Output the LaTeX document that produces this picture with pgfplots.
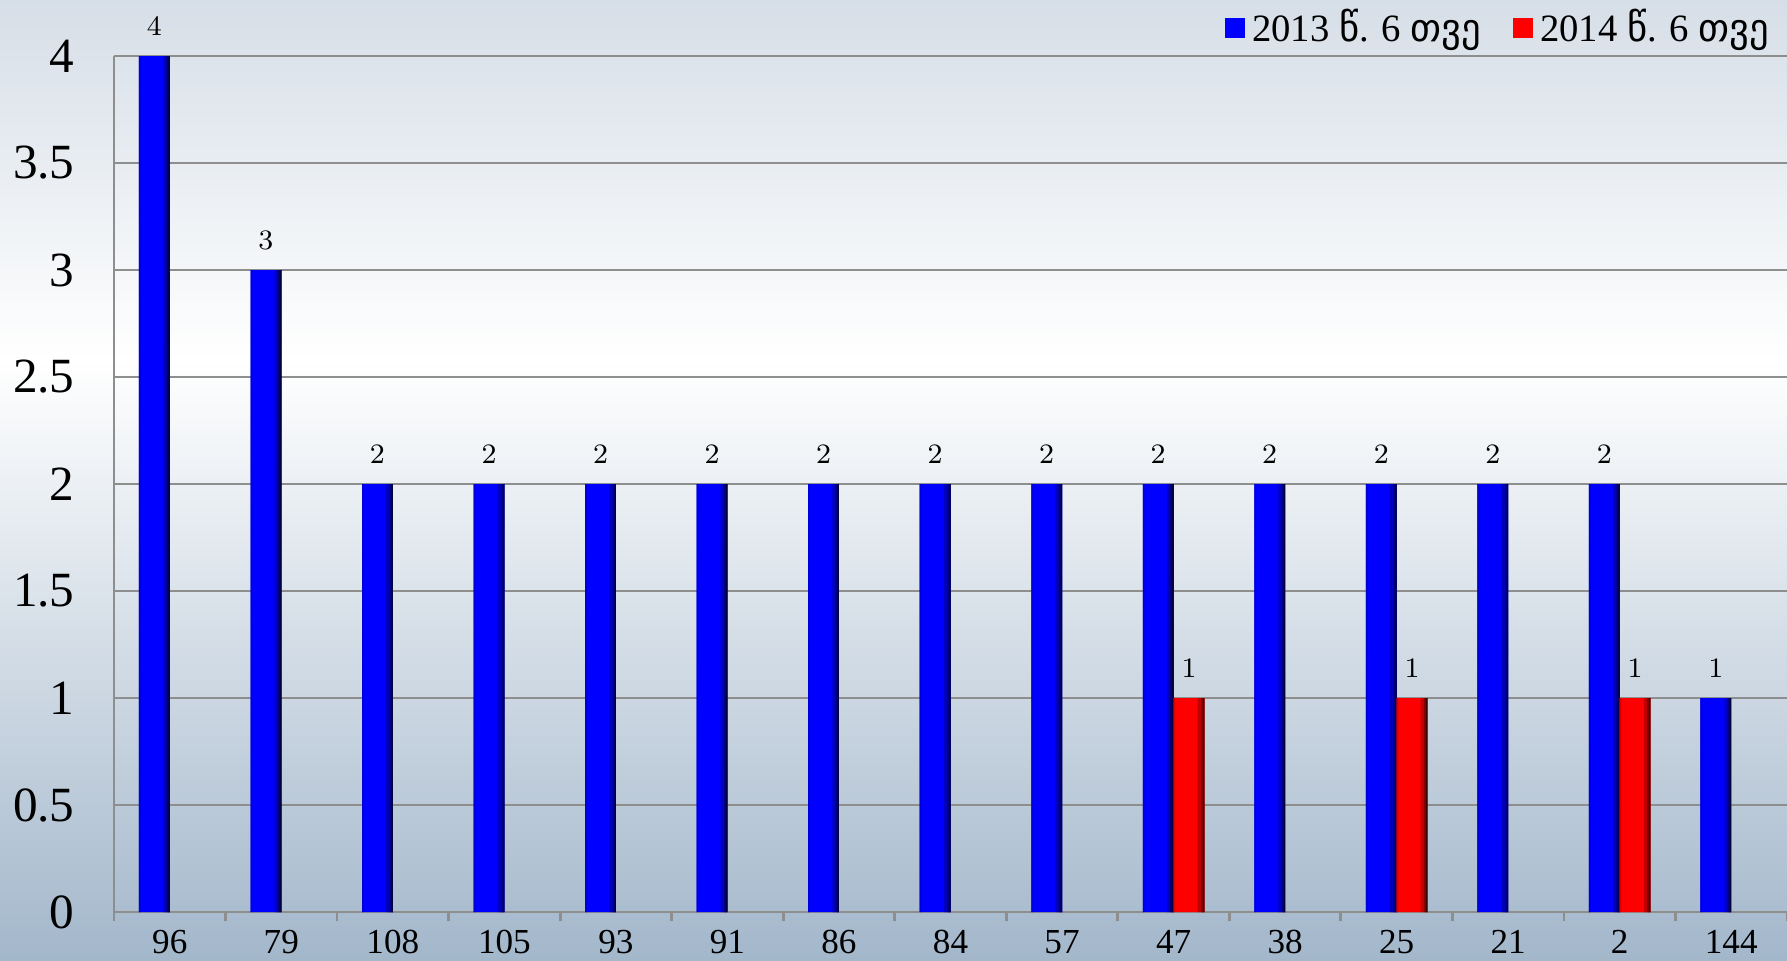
\documentclass[border=0pt]{standalone}
\usepackage{fontspec}
\setmainfont{Liberation Serif}
\newfontfamily\geo{DejaVu Sans}
\usepackage{pgfplots}
\usepackage{pgfplotstable}
\pgfplotsset{compat=1.18}

\definecolor{bgtop}{HTML}{D6DEE7}
\definecolor{bgbot}{HTML}{A3B7CB}
\definecolor{gridc}{HTML}{8E8E8E}

% x = category index, y = count
\pgfplotstableread{
x y
0 4
1 3
2 2
3 2
4 2
5 2
6 2
7 2
8 2
9 2
10 2
11 2
12 2
13 2
14 1
}\tabA
\pgfplotstableread{
x y
9 1
11 1
13 1
}\tabB

\begin{document}
\begin{tikzpicture}
\useasboundingbox (0,0) rectangle (17.87,9.60);
\clip (0,0) rectangle (17.87,9.60);
% background gradient
\shade[top color=bgtop, bottom color=white] (0,6.0) rectangle (17.87,9.60);
\shade[top color=white, bottom color=bgbot] (0,0) rectangle (17.87,6.0);
\begin{axis}[
    at={(1.14cm,0.48cm)}, anchor=south west,
    scale only axis, width=16.73cm, height=8.56cm,
    xmin=-0.5, xmax=14.5, ymin=0, ymax=4,
    axis x line*=bottom, axis y line*=left,
    axis line style={gridc, line width=0.8pt},
    ytick={0,0.5,...,4},
    yticklabels={0,0.5,1,1.5,2,2.5,3,3.5,4},
    ymajorgrids, grid style={gridc, line width=0.8pt},
    major tick length=0pt,
    xtick={0,...,14},
    xticklabels={96,79,108,105,93,91,86,84,57,47,38,25,21,2,144},
    minor xtick={-0.5,0.5,...,14.5},
    minor tick length=0.9mm, tick align=outside,
    minor x tick style={gridc, line width=0.8pt},
    xticklabel style={font=\fontsize{10}{10}\selectfont, yshift=-0.6mm},
    yticklabel style={font=\fontsize{14}{14}\selectfont, xshift=-2.7mm},
    nodes near coords style={font=\fontsize{8.5}{8.5}\selectfont, black, yshift=0.8mm},
    legend columns=2,
    legend image code/.code={\fill[#1] (0cm,-0.1cm) rectangle (0.2cm,0.1cm);},
    legend style={draw=none, fill=none, inner sep=0pt,
        at={(0.994,1.033)}, anchor=east,
        font=\fontsize{11}{11}\selectfont,
        /tikz/every even column/.append style={column sep=2.5mm}},
    strip/.style args={#1/#2/#3}{ybar, draw=none, fill=#1, bar width=#2, bar shift=#3, forget plot},
]
% 2013
\addplot[ybar, draw=none, fill=blue, bar width=0.276, bar shift=-0.138, nodes near coords,
    every node near coord/.append style={xshift=-1.54mm}] table[x=x, y=y] {\tabA};
\addlegendentry{2013 {\geo წ}. 6 {\geo თვე}}
\addplot[strip={blue!85!black/0.015/-0.2685}] table[x=x, y=y] {\tabA};
\addplot[strip={blue!75!black/0.06/-0.03}] table[x=x, y=y] {\tabA};
\addplot[strip={blue!50!black/0.03/-0.015}] table[x=x, y=y] {\tabA};
\addplot[strip={blue!25!black/0.012/-0.006}] table[x=x, y=y] {\tabA};
% 2014
\addplot[ybar, draw=none, fill=red, bar width=0.276, bar shift=0.138, nodes near coords,
    every node near coord/.append style={xshift=1.54mm}] table[x=x, y=y] {\tabB};
\addlegendentry{2014 {\geo წ}. 6 {\geo თვე}}
\addplot[strip={red!85!black/0.015/0.0075}] table[x=x, y=y] {\tabB};
\addplot[strip={red!75!black/0.06/0.246}] table[x=x, y=y] {\tabB};
\addplot[strip={red!50!black/0.03/0.261}] table[x=x, y=y] {\tabB};
\addplot[strip={red!25!black/0.012/0.27}] table[x=x, y=y] {\tabB};
\end{axis}
\end{tikzpicture}
\end{document}
